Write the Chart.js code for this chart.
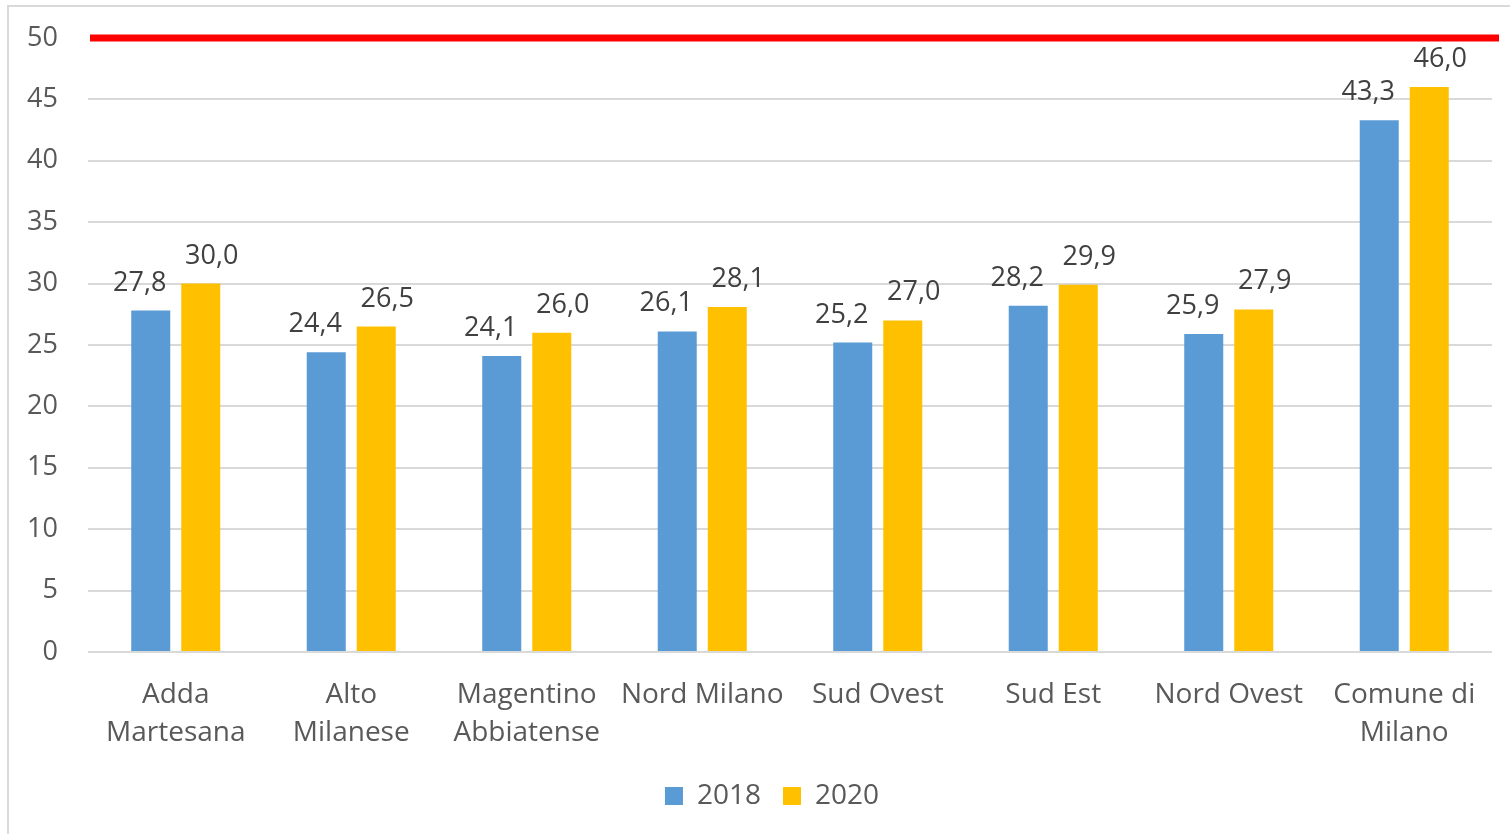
<!DOCTYPE html>
<html>
<head>
<meta charset="utf-8">
<script src="https://cdn.jsdelivr.net/npm/chart.js@4/dist/chart.umd.min.js"></script>
<style>
html, body { margin: 0; padding: 0; background: #fff; overflow: hidden; }
#frame { position: absolute; left: 7px; top: 5px; width: 1520px; height: 850px;
         border-left: 2px solid #D9D9D9; border-top: 2px solid #D9D9D9; }
#wrap { position: absolute; left: 0; top: 0; width: 1510px; height: 834px; }
</style>
</head>
<body>
<div id="frame"></div>
<div id="wrap"><canvas id="chart" width="1510" height="834"></canvas></div>
<script>
const categories = [
    ['Adda', 'Martesana'], ['Alto', 'Milanese'], ['Magentino', 'Abbiatense'],
    'Nord Milano', 'Sud Ovest', 'Sud Est', 'Nord Ovest', ['Comune di', 'Milano']
];
const seriesNames = ['2018', '2020'];
const values2018 = [27.8, 24.4, 24.1, 26.1, 25.2, 28.2, 25.9, 43.3];
const values2020 = [30.0, 26.5, 26.0, 28.1, 27.0, 29.9, 27.9, 46.0];
const yMin = 0;
const yMax = 50;
const yStep = 5;
const threshold = 50;

const colors = {
    '2018': '#5B9BD5',
    '2020': '#FFC000'
};

const FONT = "'Open Sans', sans-serif";
Chart.defaults.font.family = FONT;

// value labels above the bars, Excel style with decimal comma
const barLabels = {
    id: 'barLabels',
    afterDatasetsDraw(chart) {
        const ctx = chart.ctx;
        ctx.save();
        ctx.font = '27px ' + FONT;
        ctx.fillStyle = '#404040';
        ctx.textAlign = 'center';
        ctx.textBaseline = 'alphabetic';
        chart.data.datasets.forEach((ds, i) => {
            const shift = i === 0 ? -11 : 11;
            chart.getDatasetMeta(i).data.forEach((bar, j) => {
                const txt = ds.data[j].toFixed(1).replace('.', ',');
                ctx.fillText(txt, bar.x + shift, bar.y - 20);
            });
        });
        ctx.restore();
    }
};

// red reference line at the threshold
const thresholdLine = {
    id: 'thresholdLine',
    afterLayout(chart) {
        // legend sits a bit right of the canvas centre in the original
        chart.legend.left += 26;
        chart.legend.right += 26;
    },
    beforeDatasetsDraw(chart) {
        const { ctx, chartArea, scales } = chart;
        const y = scales.y.getPixelForValue(threshold);
        ctx.save();
        ctx.strokeStyle = '#FF0000';
        ctx.lineWidth = 7;
        ctx.beginPath();
        ctx.moveTo(chartArea.left + 2, y);
        ctx.lineTo(chartArea.right + 7, y);
        ctx.stroke();
        ctx.restore();
    }
};

new Chart(document.getElementById('chart'), {
    type: 'bar',
    data: {
        labels: categories,
        datasets: [
            { label: seriesNames[0], data: values2018, backgroundColor: colors['2018'] },
            { label: seriesNames[1], data: values2020, backgroundColor: colors['2020'] }
        ]
    },
    options: {
        responsive: false,
        animation: false,
        devicePixelRatio: 1,
        categoryPercentage: 0.57,
        barPercentage: 0.78,
        layout: { padding: { left: 0, right: 18, top: 38, bottom: 14 } },
        scales: {
            x: {
                grid: { display: false },
                border: { display: false },
                ticks: {
                    color: '#595959',
                    font: { size: 28, lineHeight: 1.35 },
                    padding: 16,
                    maxRotation: 0,
                    autoSkip: false
                },
                afterFit(s) { s.height = 108; }
            },
            y: {
                min: yMin,
                max: yMax,
                border: { display: false },
                grid: {
                    color: c => (c.tick && c.tick.value === threshold) ? 'rgba(0,0,0,0)' : '#D9D9D9',
                    lineWidth: 2,
                    drawTicks: false
                },
                ticks: {
                    stepSize: yStep,
                    color: '#595959',
                    font: { size: 27, lineHeight: 0.5 },
                    padding: 30
                },
                afterFit(s) { s.width = 88; }
            }
        },
        plugins: {
            legend: {
                position: 'bottom',
                labels: {
                    boxWidth: 18,
                    boxHeight: 18,
                    color: '#595959',
                    font: { size: 28 },
                    padding: 22
                }
            },
            tooltip: { enabled: false }
        }
    },
    plugins: [thresholdLine, barLabels]
});
</script>
</body>
</html>
